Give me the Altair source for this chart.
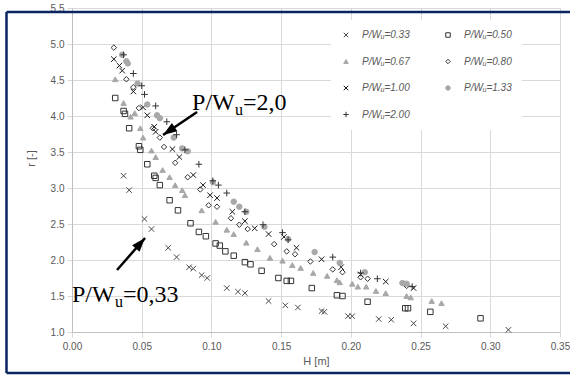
import math
import altair as alt
import pandas as pd

# ---------------- data ----------------
series_labels = ["P/W\u1d64=0.33", "P/W\u1d64=0.50", "P/W\u1d64=0.67", "P/W\u1d64=0.80",
                 "P/W\u1d64=1.00", "P/W\u1d64=1.33", "P/W\u1d64=2.00"]

H_033 = [0.037, 0.041, 0.052, 0.057, 0.069, 0.075, 0.084, 0.087, 0.093, 0.097, 0.111, 0.119, 0.124,
         0.141, 0.153, 0.162, 0.179, 0.181, 0.198, 0.201, 0.220, 0.229, 0.245, 0.268, 0.313]
r_033 = [3.17, 2.97, 2.57, 2.43, 2.17, 2.04, 1.90, 1.88, 1.79, 1.75, 1.61, 1.56, 1.54,
         1.43, 1.37, 1.34, 1.29, 1.28, 1.22, 1.22, 1.18, 1.17, 1.12, 1.08, 1.03]

H_050 = [0.031, 0.037, 0.038, 0.041, 0.048, 0.049, 0.054, 0.059, 0.060, 0.063, 0.070, 0.076, 0.085,
         0.091, 0.096, 0.103, 0.106, 0.110, 0.116, 0.124, 0.128, 0.136, 0.148, 0.154, 0.157, 0.172,
         0.190, 0.194, 0.212, 0.239, 0.241, 0.257, 0.293]
r_050 = [4.25, 4.07, 4.03, 3.83, 3.58, 3.53, 3.33, 3.17, 3.14, 3.04, 2.83, 2.69, 2.51,
         2.39, 2.33, 2.23, 2.20, 2.12, 2.06, 1.97, 1.94, 1.85, 1.75, 1.71, 1.71, 1.61,
         1.51, 1.50, 1.42, 1.33, 1.33, 1.28, 1.19]

H_067 = [0.031, 0.037, 0.042, 0.045, 0.049, 0.051, 0.057, 0.060, 0.065, 0.070, 0.074, 0.079, 0.081,
         0.093, 0.103, 0.111, 0.116, 0.125, 0.133, 0.142, 0.151, 0.158, 0.164, 0.173, 0.183, 0.190,
         0.192, 0.201, 0.205, 0.211, 0.218, 0.225, 0.240, 0.243, 0.258, 0.265]
r_067 = [4.51, 4.18, 3.99, 4.04, 3.83, 3.70, 3.52, 3.43, 3.25, 3.15, 3.04, 2.97, 2.90,
         2.69, 2.53, 2.42, 2.36, 2.24, 2.15, 2.03, 1.99, 1.93, 1.89, 1.82, 1.78, 1.72,
         1.69, 1.67, 1.63, 1.63, 1.57, 1.54, 1.50, 1.48, 1.43, 1.40]

H_080 = [0.030, 0.039, 0.044, 0.048, 0.058, 0.063, 0.066, 0.074, 0.083, 0.092, 0.098, 0.104, 0.114,
         0.120, 0.126, 0.145, 0.154, 0.160, 0.171, 0.187, 0.194, 0.207, 0.212, 0.240]
r_080 = [4.95, 4.51, 4.40, 4.11, 3.83, 3.70, 3.57, 3.35, 3.15, 2.98, 2.76, 2.74, 2.58,
         2.49, 2.43, 2.22, 2.12, 2.08, 1.98, 1.87, 1.83, 1.76, 1.74, 1.64]

H_100 = [0.030, 0.034, 0.036, 0.044, 0.051, 0.054, 0.059, 0.060, 0.072, 0.077, 0.087, 0.094, 0.099,
         0.104, 0.115, 0.124, 0.131, 0.141, 0.152, 0.161, 0.179, 0.193, 0.207, 0.225, 0.245]
r_100 = [4.79, 4.70, 4.63, 4.34, 4.12, 4.01, 3.85, 3.78, 3.54, 3.43, 3.18, 3.04, 2.90,
         2.86, 2.67, 2.54, 2.44, 2.36, 2.32, 2.17, 2.01, 1.90, 1.80, 1.70, 1.61]

H_133 = [0.036, 0.039, 0.040, 0.047, 0.054, 0.061, 0.063, 0.073, 0.079, 0.083, 0.101, 0.116, 0.120,
         0.125, 0.138, 0.155, 0.174, 0.192, 0.210, 0.237, 0.240]
r_133 = [4.85, 4.76, 4.73, 4.45, 4.16, 4.01, 3.97, 3.70, 3.55, 3.51, 3.08, 2.81, 2.74,
         2.67, 2.46, 2.29, 2.11, 1.96, 1.83, 1.68, 1.67]

H_200 = [0.037, 0.044, 0.050, 0.052, 0.060, 0.068, 0.075, 0.081, 0.091, 0.101, 0.105, 0.111, 0.124,
         0.137, 0.151, 0.155, 0.187, 0.207, 0.219, 0.244]
r_200 = [4.85, 4.59, 4.42, 4.30, 4.14, 3.92, 3.74, 3.53, 3.33, 3.10, 3.04, 2.93, 2.67,
         2.49, 2.38, 2.28, 2.04, 1.82, 1.74, 1.63]

x_ticks = [0.00, 0.05, 0.10, 0.15, 0.20, 0.25, 0.30, 0.35]
y_ticks = [1.0, 1.5, 2.0, 2.5, 3.0, 3.5, 4.0, 4.5, 5.0, 5.5]

# annotations
annot_H = [0.0861, 0.0]
annot_r = [4.09, 1.417]
annot_tail = ["=2,0", "=0,33"]
arrow_H0 = [0.0897, 0.0323]
arrow_r0 = [4.056, 1.861]
arrow_H1 = [0.0653, 0.0524]
arrow_r1 = [3.736, 2.306]

# ---------------- build ----------------
W, HGT = 488, 324
XDOM = [0.0, 0.35]
YDOM = [1.0, 5.5]

all_H = [H_033, H_050, H_067, H_080, H_100, H_133, H_200]
all_r = [r_033, r_050, r_067, r_080, r_100, r_133, r_200]
rows = []
for lab, hs, rs in zip(series_labels, all_H, all_r):
    for h, r in zip(hs, rs):
        rows.append({"series": lab, "H": h, "r": r})
df = pd.DataFrame(rows)

X_PATH = "M-1,-1L1,1M-1,1L1,-1"
PLUS_PATH = "M-1.2,0L1.2,0M0,-1.2L0,1.2"
shape_range = [X_PATH, "square", "triangle-up", "diamond", X_PATH, "circle", PLUS_PATH]
stroke_range = ["#4a4a4a", "#333333", "#a8a8a8", "#333333", "#1a1a1a", "#a8a8a8", "#333333"]
fill_range = ["transparent", "transparent", "#a8a8a8", "transparent", "transparent", "#a8a8a8", "transparent"]

xs = alt.Scale(domain=XDOM, nice=False, zero=False)
ys = alt.Scale(domain=YDOM, nice=False, zero=False)

axis_common = dict(
    grid=True, gridColor="#d9d9d9", gridWidth=1,
    tickColor="#d9d9d9", tickSize=5, domainColor="#bfbfbf",
    labelColor="#595959", labelFont="Liberation Sans", labelFontSize=10,
    titleColor="#595959", titleFont="Liberation Sans", titleFontSize=11,
    titleFontWeight="normal", labelFlush=False, labelOverlap=False, tickCount=40,
)

leg = alt.Legend(
    title=None, orient="none", legendX=259, legendY=12, columns=2,
    direction="horizontal",
    fillColor="white", padding=10, rowPadding=16.5, columnPadding=33,
    symbolSize=20, symbolStrokeWidth=1, labelOffset=11,
    labelFont="Liberation Sans", labelFontSize=10, labelFontStyle="italic",
    labelColor="#595959", labelLimit=200,
)

points = alt.Chart(df).mark_point(size=30, strokeWidth=1, opacity=1).encode(
    x=alt.X("H:Q", scale=xs, axis=alt.Axis(values=x_ticks, format=".2f", title="H [m]",
                                           labelPadding=4, titlePadding=4, **axis_common)),
    y=alt.Y("r:Q", scale=ys, axis=alt.Axis(values=y_ticks, format=".1f", title="r [-]",
                                           labelPadding=3, titleX=-36, titleY=150, **axis_common)),
    shape=alt.Shape("series:N", scale=alt.Scale(domain=series_labels, range=shape_range), legend=leg),
    stroke=alt.Stroke("series:N", scale=alt.Scale(domain=series_labels, range=stroke_range), legend=leg),
    fill=alt.Fill("series:N", scale=alt.Scale(domain=series_labels, range=fill_range), legend=leg),
)

# arrows
px_per_x = W / (XDOM[1] - XDOM[0])
px_per_y = HGT / (YDOM[1] - YDOM[0])
angles = []
for h0, r0, h1, r1 in zip(arrow_H0, arrow_r0, arrow_H1, arrow_r1):
    dx = (h1 - h0) * px_per_x
    dy = -(r1 - r0) * px_per_y
    angles.append((math.degrees(math.atan2(dx, -dy)) + 360) % 360)
arr = pd.DataFrame({"H0": arrow_H0, "r0": arrow_r0, "H1": arrow_H1, "r1": arrow_r1, "ang": angles})

shaft = alt.Chart(arr).mark_rule(color="black", strokeWidth=2.5).encode(
    x=alt.X("H0:Q", scale=xs), y=alt.Y("r0:Q", scale=ys),
    x2="H1:Q", y2="r1:Q",
)
HEAD = "M0,0L0.7,2L-0.7,2Z"
head = alt.Chart(arr).mark_point(shape=HEAD, filled=True, color="black", size=196, opacity=1,
                                 strokeWidth=0).encode(
    x=alt.X("H1:Q", scale=xs), y=alt.Y("r1:Q", scale=ys),
    angle=alt.Angle("ang:Q", scale=None),
)

ann = pd.DataFrame({"H": annot_H, "r": annot_r, "tail": annot_tail})
t_main = alt.Chart(ann).mark_text(font="Liberation Serif", fontSize=24, align="left",
                                  baseline="alphabetic", color="black").encode(
    x=alt.X("H:Q", scale=xs), y=alt.Y("r:Q", scale=ys), text=alt.value("P/W"))
t_sub = alt.Chart(ann).mark_text(font="Liberation Serif", fontSize=16, align="left",
                                 baseline="alphabetic", color="black", dx=43, dy=5).encode(
    x=alt.X("H:Q", scale=xs), y=alt.Y("r:Q", scale=ys), text=alt.value("u"))
t_tail = alt.Chart(ann).mark_text(font="Liberation Serif", fontSize=24, align="left",
                                  baseline="alphabetic", color="black", dx=51).encode(
    x=alt.X("H:Q", scale=xs), y=alt.Y("r:Q", scale=ys), text="tail:N")

# outer frame
dummy = pd.DataFrame({"a": [0]})
FRAME = "#0b2560"
f_top = alt.Chart(dummy).mark_rule(color=FRAME, strokeWidth=2.5).encode(
    x=alt.value(-65.5), x2=alt.value(520), y=alt.value(4))
f_left = alt.Chart(dummy).mark_rule(color=FRAME, strokeWidth=2.5).encode(
    x=alt.value(-65.5), y=alt.value(4), y2=alt.value(365))
f_bot = alt.Chart(dummy).mark_rule(color=FRAME, strokeWidth=2.5).encode(
    x=alt.value(-65.5), x2=alt.value(520), y=alt.value(365))

chart = alt.layer(points, shaft, head, t_main, t_sub, t_tail, f_top, f_left, f_bot).properties(
    width=W, height=HGT,
    padding={"left": 72, "top": 8, "right": 10, "bottom": 44},
    autosize=alt.AutoSizeParams(type="none"),
    background="white",
).configure_view(strokeWidth=0)

chart.save("out.html", embed_options={"renderer": "svg", "actions": False})
